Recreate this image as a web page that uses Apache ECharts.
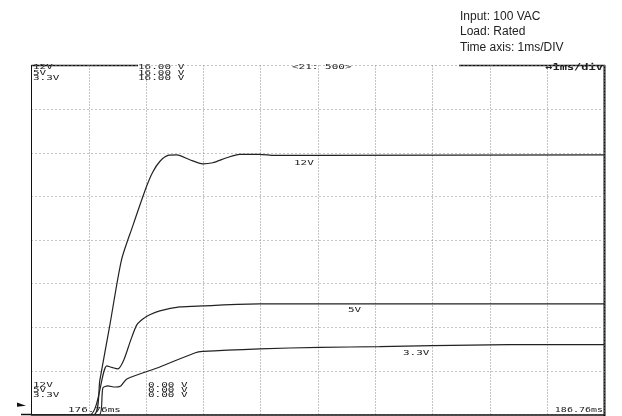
<!DOCTYPE html>
<html>
<head>
<meta charset="utf-8">
<script src="https://cdn.jsdelivr.net/npm/echarts@6/dist/echarts.min.js"></script>
<style>
html,body{margin:0;padding:0;background:#fff;}
#chart{width:622px;height:416px;}
</style>
</head>
<body>
<div id="chart"></div>
<script>
// time (ms after 176.76 ms) and voltage readings
const t12 = [0, 1.084, 1.193, 1.368, 1.571, 1.768, 2.007, 2.117, 2.239, 2.383, 2.535, 2.761, 2.988, 3.162, 3.406, 3.632, 3.981, 4.242, 5.030, 10];
const v12 = [0, 0, 1.58, 4.11, 7.09, 8.65, 10.45, 11.12, 11.60, 11.88, 11.90, 11.68, 11.49, 11.54, 11.77, 11.93, 11.93, 11.88, 11.88, 11.90];
const t5 = [0, 1.019, 1.315, 1.402, 1.507, 1.611, 1.733, 1.838, 1.943, 2.064, 2.239, 2.587, 2.988, 3.981, 10];
const v5 = [0, 0, 2.23, 2.16, 2.09, 2.50, 3.42, 4.11, 4.38, 4.57, 4.75, 4.93, 4.98, 5.07, 5.07];
const t33 = [0, 1.185, 1.246, 1.333, 1.455, 1.559, 1.664, 2.239, 2.848, 2.988, 3.981, 5.030, 6.071, 6.995, 8.336, 10];
const v33 = [0, 0, 1.22, 1.31, 1.26, 1.31, 1.63, 2.18, 2.82, 2.89, 3.01, 3.08, 3.11, 3.16, 3.20, 3.20];

const channelNames = ['12V', '5V', '3.3V'];
const topScale = ['16.00 V', '16.00 V', '16.00 V'];
const bottomScale = ['0.00 V', '0.00 V', '0.00 V'];
const timeLabels = ['176.76ms', '186.76ms'];
const headerText = ['Input: 100 VAC', 'Load: Rated', 'Time axis: 1ms/DIV'];
const scopeInfo = '<21: 500>';
const timeBase = '\u21941ms/div';

function pairs(t, v) { return t.map((x, i) => [x, v[i]]); }

const chart = echarts.init(document.getElementById('chart'), null, {renderer: 'canvas'});

const mono = '"DejaVu Sans Mono", "Liberation Mono", monospace';
const inkC = '#222';
function scopeText(x, y, text, opts) {
  opts = opts || {};
  return {
    type: 'text', x: x, y: y, scaleY: opts.scaleY || 0.62, silent: true,
    style: {
      text: text, fill: inkC,
      font: (opts.bold ? 'bold ' : '') + (opts.size || 11) + 'px ' + mono,
      textAlign: opts.align || 'left', textVerticalAlign: 'middle'
    }
  };
}

const graphics = [];
// header annotation
headerText.forEach((s, i) => {
  graphics.push({type: 'text', x: 460, y: 16.5 + i * 15.5, silent: true,
    style: {text: s, fill: '#222', font: '12px "Liberation Sans", Arial, sans-serif', textVerticalAlign: 'middle'}});
});
// channel blocks
channelNames.forEach((s, i) => {
  graphics.push(scopeText(33, 67.5 + i * 5.5, s));
  graphics.push(scopeText(138, 67.5 + i * 5.5, topScale[i]));
  graphics.push(scopeText(33, 385 + i * 5.2, s));
  graphics.push(scopeText(148, 385 + i * 5.2, bottomScale[i]));
});
graphics.push(scopeText(292, 67.5, scopeInfo));
graphics.push(scopeText(603, 68, timeBase, {bold: true, size: 12, scaleY: 0.75, align: 'right'}));
graphics.push(scopeText(68, 410.5, timeLabels[0]));
graphics.push(scopeText(603, 410.5, timeLabels[1], {size: 10, align: 'right'}));
// curve labels
graphics.push(scopeText(294, 163.5, channelNames[0]));
graphics.push(scopeText(348, 310.5, channelNames[1]));
graphics.push(scopeText(403, 353, channelNames[2]));
// partial top frame
graphics.push({type: 'line', silent: true, shape: {x1: 31.5, y1: 65.5, x2: 138, y2: 65.5}, style: {stroke: '#111', lineWidth: 1.5}});
graphics.push({type: 'line', silent: true, shape: {x1: 459, y1: 65.5, x2: 605, y2: 65.5}, style: {stroke: '#111', lineWidth: 1.5}});
// right frame (thick)
graphics.push({type: 'line', silent: true, shape: {x1: 604.5, y1: 65, x2: 604.5, y2: 416}, style: {stroke: '#111', lineWidth: 2}});
// ground marker
graphics.push({type: 'polygon', silent: true, shape: {points: [[17, 402.5], [26, 405.8], [17, 406.8]]}, style: {fill: '#111'}});
graphics.push({type: 'line', silent: true, shape: {x1: 21, y1: 414.5, x2: 31.5, y2: 414.5}, style: {stroke: '#111', lineWidth: 1.5}});

const lineStyle = {color: inkC, width: 1.2};
function mk(name, data) {
  return {name: name, type: 'line', data: data, showSymbol: false, smooth: 0.25,
    lineStyle: lineStyle, itemStyle: {color: inkC}, animation: false, z: 5};
}

chart.setOption({
  backgroundColor: '#fff',
  animation: false,
  grid: {left: 31.5, right: 17.5, top: 65.5, bottom: 1.5, containLabel: false},
  xAxis: {
    type: 'value', min: 0, max: 10, interval: 1,
    axisLine: {show: true, onZero: false, lineStyle: {color: '#111', width: 1.5}},
    axisTick: {show: false}, axisLabel: {show: false},
    splitLine: {show: true, lineStyle: {color: '#8a8a8a', type: [1, 2], width: 1}}
  },
  yAxis: {
    type: 'value', min: 0, max: 16, interval: 2,
    axisLine: {show: true, onZero: false, lineStyle: {color: '#111', width: 1}},
    axisTick: {show: false}, axisLabel: {show: false},
    splitLine: {show: true, lineStyle: {color: '#8a8a8a', type: [1, 3], width: 1}}
  },
  series: [
    mk('12V', pairs(t12, v12)),
    mk('5V', pairs(t5, v5)),
    mk('3.3V', pairs(t33, v33))
  ],
  graphic: graphics
});
</script>
</body>
</html>
